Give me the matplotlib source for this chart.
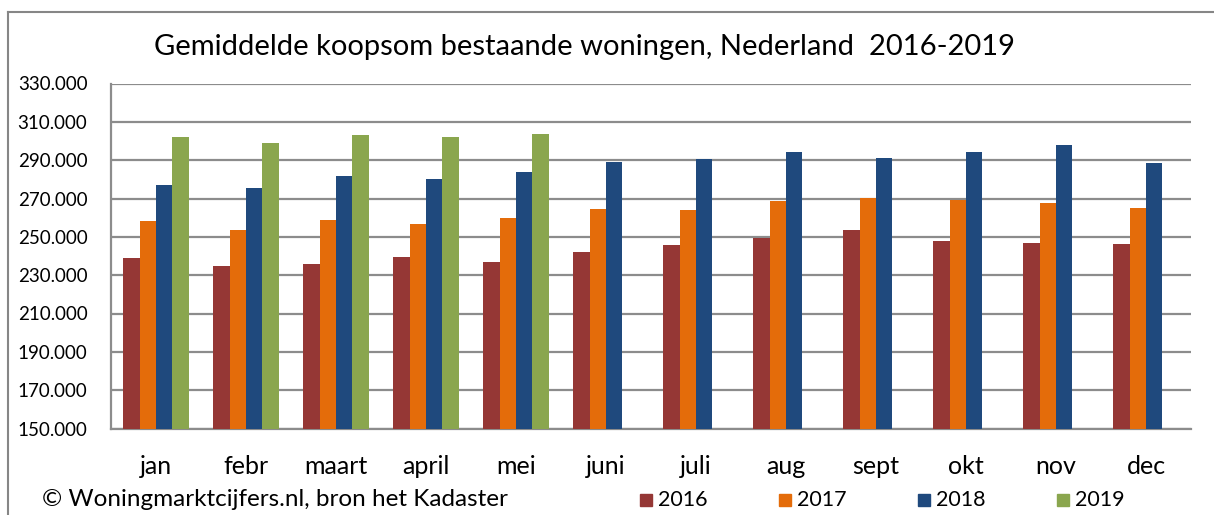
import numpy as np
import matplotlib
matplotlib.use("Agg")
import matplotlib.pyplot as plt
from matplotlib.ticker import FuncFormatter
from matplotlib.lines import Line2D
from matplotlib.patches import Rectangle

plt.rcParams['font.family'] = ['Lato', 'DejaVu Sans']

# Data (gemiddelde koopsom, euro)
maanden = ["jan", "febr", "maart", "april", "mei", "juni",
           "juli", "aug", "sept", "okt", "nov", "dec"]
jaren = ["2016", "2017", "2018", "2019"]
v2016 = [238900, 234800, 235900, 239500, 236800, 242300,
         246000, 249300, 253600, 247900, 246800, 246500]
v2017 = [258500, 253600, 258800, 256900, 259700, 264400,
         264000, 268500, 270100, 269200, 267800, 265200]
v2018 = [276900, 275300, 281600, 280000, 284000, 289200,
         290600, 294200, 291300, 294200, 297900, 288300]
v2019 = [302200, 298700, 302900, 302200, 303400, np.nan,
         np.nan, np.nan, np.nan, np.nan, np.nan, np.nan]
y_ticks = [150000, 170000, 190000, 210000, 230000, 250000,
           270000, 290000, 310000, 330000]
kleuren = ["#953735", "#E46C0A", "#1F497D", "#8AA64E"]

W, H = 1214, 515
fig = plt.figure(figsize=(W / 100, H / 100), dpi=100)

# plot area in pixels
left, right, top, bottom = 111, 1191, 83.5, 428.5
ax = fig.add_axes([left / W, 1 - bottom / H, (right - left) / W, (bottom - top) / H])

x = np.arange(len(maanden))
bw = 0.183
reeksen = [v2016, v2017, v2018, v2019]
for i, (reeks, kleur, jaar) in enumerate(zip(reeksen, kleuren, jaren)):
    ax.bar(x + (i - 1.5) * bw, reeks, width=bw, color=kleur, label=jaar,
           edgecolor="none", zorder=3)

ax.set_xlim(-0.5, len(maanden) - 0.5)
ax.set_ylim(150000, 330000)
ax.set_yticks(y_ticks)
ax.yaxis.set_major_formatter(FuncFormatter(lambda v, p: f"{v:,.0f}".replace(",", ".")))
ax.grid(axis="y", color="#8c8c8c", linewidth=1.6, zorder=0)
ax.set_axisbelow(True)

for s in ["top", "right"]:
    ax.spines[s].set_visible(False)
for s in ["left", "bottom"]:
    ax.spines[s].set_color("#8c8c8c")
    ax.spines[s].set_linewidth(1.6)

ax.set_xticks(x)
ax.set_xticklabels(maanden)
ax.tick_params(axis="x", length=0, pad=19, labelsize=18)
ax.tick_params(axis="y", length=0, pad=17, labelsize=13.5)

# titel
fig.text(585 / W, 1 - 47 / H, "Gemiddelde koopsom bestaande woningen, Nederland  2016-2019",
         ha="center", va="center", fontsize=21)

# bron
fig.text(42 / W, 1 - 500 / H, "© Woningmarktcijfers.nl, bron het Kadaster",
         ha="left", va="center", fontsize=17.5)

# legenda
leg_x = [640, 779, 918, 1057]
for lx, kleur, jaar in zip(leg_x, kleuren, jaren):
    fig.patches.append(Rectangle((lx / W, 1 - 506 / H), 12 / W, 12 / H,
                                 transform=fig.transFigure, color=kleur))
    fig.text((lx + 18) / W, 1 - 500 / H, jaar, ha="left", va="center", fontsize=15.5)

# rand
fig.lines.append(Line2D([8 / W, 8 / W], [0, 1 - 12 / H], transform=fig.transFigure,
                        color="#868686", linewidth=1.5))
fig.lines.append(Line2D([8 / W, 1], [1 - 12 / H, 1 - 12 / H], transform=fig.transFigure,
                        color="#868686", linewidth=1.5))

fig.savefig("out.png", dpi=100)
